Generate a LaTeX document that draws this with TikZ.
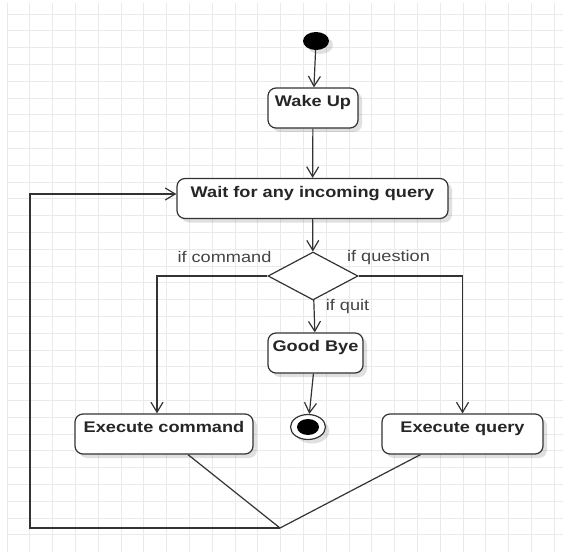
\documentclass[tikz,border=0pt]{standalone}
\usepackage{fontspec}
\newfontfamily\diagfont[FakeStretch=1.18]{Liberation Sans}
\usetikzlibrary{arrows.meta,shapes.geometric,shadows}
\definecolor{lineclr}{HTML}{333333}
\definecolor{guardclr}{HTML}{444444}
\definecolor{gridclr}{HTML}{EAEAEA}

\begin{document}
\begin{tikzpicture}[x=1pt,y=-1pt,
    softshadow/.style={drop shadow={shadow xshift=4pt,shadow yshift=-4pt,opacity=0.12,fill=black}},
    activity/.style={draw=lineclr,line width=1.2pt,rounded corners=8pt,fill=white,softshadow,
      text=black!85,font=\diagfont\bfseries\fontsize{15.4}{18}\selectfont,
      inner xsep=0pt,inner ysep=3pt,text height=15.5pt,text depth=18.5pt},
    guard/.style={text=guardclr,anchor=base,font=\diagfont\fontsize{15.4}{18}\selectfont},
    flow/.style={draw=lineclr,line width=1.2pt,-{Straight Barb[length=10pt,width=12pt]}},
    link/.style={draw=lineclr,line width=1.2pt}]
  \useasboundingbox (0,0) rectangle (577,556);

  % Grid
  \foreach \i in {0,...,24}
    \draw[gridclr,line width=0.8pt] ({7+22.8*\i},3) -- ({7+22.8*\i},552);
  \foreach \j in {0,...,31}
    \draw[gridclr,line width=0.8pt] (7,{14+16.8*\j}) -- (563,{14+16.8*\j});

  % Start and end
  \node[ellipse,fill=black,minimum width=26pt,minimum height=18pt,inner sep=0pt,softshadow]
    (start) at (316,41) {};
  \node[ellipse,draw=lineclr,line width=1.2pt,fill=white,softshadow,
    minimum width=35pt,minimum height=25pt,inner sep=0pt,
    path picture={\fill[black] (path picture bounding box.center) ellipse [x radius=11pt,y radius=8pt];}]
    (end) at (308,427) {};

  % Activities
  \node[activity,minimum width=90pt] (wake) at (313,108) {Wake Up};
  \node[activity,minimum width=271pt] (wait) at (312.5,198.5) {Wait for any incoming query};
  \node[diamond,draw=lineclr,line width=1.2pt,fill=white,
    minimum width=90pt,minimum height=48pt,inner sep=0pt] (choice) at (313,276) {};
  \node[activity,minimum width=95pt] (bye) at (315.5,353) {Good Bye};
  \node[activity,minimum width=178pt] (cmd) at (164,434) {Execute command};
  \node[activity,minimum width=161pt] (query) at (462.5,434) {Execute query};

  % Guards
  \node[guard] (gcmd) at (224.5,262.5) {if command};
  \node[guard] (gquest) at (388.5,261.5) {if question};
  \node[guard] (gquit) at (347.5,310.5) {if quit};

  % Flows
  \draw[flow] (start) -- (wake);
  \draw[flow] (wake) -- (wait);
  \draw[flow] (wait) -- (choice);
  \draw[flow] (choice.west) -| ([xshift=-7pt]cmd.north);
  \draw[flow] (choice.east) -| (query.north);
  \draw[flow] (choice) -- (bye);
  \draw[flow] (bye) -- (end);

  % Loop back
  \coordinate (merge) at (280,528);
  \coordinate (back) at (30,528);
  \draw[link] ([xshift=24pt]cmd.south) -- (merge) -- ([xshift=-42pt]query.south);
  \draw[flow] (merge) -- (back) |- ([yshift=4.5pt]wait.west);
\end{tikzpicture}
\end{document}
